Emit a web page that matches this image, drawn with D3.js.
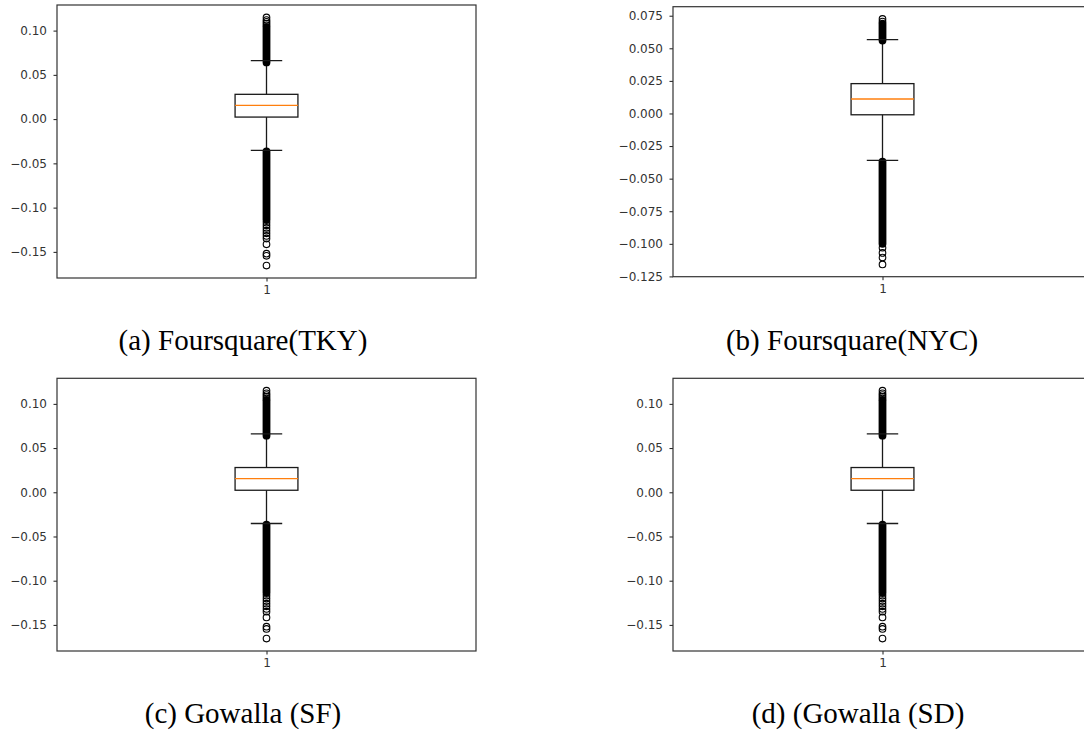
<!DOCTYPE html>
<html>
<head>
<meta charset="utf-8">
<style>
  body { margin: 0; background: #fff; }
  svg { display: block; }
</style>
</head>
<body>
<div class="chart"></div>

<script src="https://d3js.org/d3.v7.min.js"></script>
<script>
  // 每張子圖的資料 (a)(b)(c)(d)
  const captions = ['(a) Foursquare(TKY)', '(b) Foursquare(NYC)', '(c) Gowalla (SF)', '(d) (Gowalla (SD)']
  const xTickLabels = ['1']

  const q1Values     = [0.0023, -0.0010, 0.0023, 0.0023]
  const medianValues = [0.0155, 0.0111, 0.0155, 0.0155]
  const q3Values     = [0.0280, 0.0229, 0.0280, 0.0280]
  const whiskerLow   = [-0.0353, -0.0359, -0.0353, -0.0353]
  const whiskerHigh  = [0.0660, 0.0567, 0.0660, 0.0660]

  // 重疊到看起來是實心的 outlier 區段 [low, high]
  const denseFliers = [
    [[0.0640, 0.1040], [-0.1140, -0.0365]],
    [[0.0560, 0.0690], [-0.1000, -0.0370]],
    [[0.0640, 0.1040], [-0.1140, -0.0365]],
    [[0.0640, 0.1040], [-0.1140, -0.0365]]
  ]
  // 個別看得到的 outlier 圈圈
  const flierPoints = [
    [0.1060, 0.1080, 0.1100, 0.1120, 0.1149, -0.1170, -0.1200, -0.1230, -0.1260, -0.1290, -0.1320, -0.1350, -0.1415, -0.1520, -0.1545, -0.1655],
    [0.0705, 0.0725, -0.1030, -0.1070, -0.1105, -0.1158],
    [0.1060, 0.1080, 0.1100, 0.1120, 0.1149, -0.1170, -0.1200, -0.1230, -0.1260, -0.1290, -0.1320, -0.1350, -0.1415, -0.1520, -0.1545, -0.1655],
    [0.1060, 0.1080, 0.1100, 0.1120, 0.1149, -0.1170, -0.1200, -0.1230, -0.1260, -0.1290, -0.1320, -0.1350, -0.1415, -0.1520, -0.1545, -0.1655]
  ]

  const yTicks = [
    [-0.15, -0.10, -0.05, 0.00, 0.05, 0.10],
    [-0.125, -0.100, -0.075, -0.050, -0.025, 0.000, 0.025, 0.050, 0.075],
    [-0.15, -0.10, -0.05, 0.00, 0.05, 0.10],
    [-0.15, -0.10, -0.05, 0.00, 0.05, 0.10]
  ]
  const yTickFormats = ['.2f', '.3f', '.2f', '.2f']

  // 版面位置
  const frames = [
    { left: 57,  top: 5,     width: 419, height: 273,   capX: 243, capY: 350 },
    { left: 673, top: 6.7,   width: 419, height: 270,   capX: 852, capY: 350 },
    { left: 57,  top: 378.3, width: 419, height: 272.7, capX: 243, capY: 723 },
    { left: 673, top: 378.3, width: 419, height: 272.7, capX: 858, capY: 723 }
  ]

  const width = 1084, height = 732
  const r = 3.3
  const ink = '#1a1a1a'

  const svg = d3.select('.chart')
                .append('svg')
                .attr('width', width)
                .attr('height', height)

  frames.forEach((f, i) => {
    const g = svg.append('g')

    // y 軸範圍: 資料極值上下各留 5%
    const all = flierPoints[i].concat(denseFliers[i].flat())
    const [lo, hi] = d3.extent(all)
    const pad = (hi - lo) * 0.05

    const yScale = d3.scaleLinear()
                     .domain([lo - pad, hi + pad])
                     .range([f.top + f.height, f.top])
    const xScale = d3.scaleLinear()
                     .domain([0.5, 1.5])
                     .range([f.left, f.left + f.width])

    // 軸
    const yAxis = d3.axisLeft(yScale)
                    .tickValues(yTicks[i])
                    .tickFormat(d3.format(yTickFormats[i]))
                    .tickSizeOuter(0)
                    .tickSize(3.5)
                    .tickPadding(6.5)
    const xAxis = d3.axisBottom(xScale)
                    .tickValues([1])
                    .tickFormat((d, k) => xTickLabels[k])
                    .tickSizeOuter(0)
                    .tickSize(3.5)
                    .tickPadding(4)

    const yG = g.append('g')
                .attr('transform', `translate(${f.left},0)`)
                .call(yAxis)
    const xG = g.append('g')
                .attr('transform', `translate(0,${f.top + f.height})`)
                .call(xAxis)
    ;[yG, xG].forEach(a => {
      a.attr('font-size', null).attr('font-family', null)
      a.select('.domain').remove()
      a.selectAll('line').attr('stroke', ink).attr('stroke-width', 1)
      a.selectAll('text')
       .attr('fill', '#333')
       .style('font-family', '"DejaVu Sans", sans-serif')
       .style('font-size', '12px')
    })

    // 外框
    g.append('rect')
     .attr('x', f.left)
     .attr('y', f.top)
     .attr('width', f.width)
     .attr('height', f.height)
     .attr('fill', 'none')
     .attr('stroke', '#333')
     .attr('stroke-width', 1.2)

    const cx = xScale(1)
    const boxHalf = xScale(1.075) - cx
    const capHalf = xScale(1.0375) - cx

    // whiskers
    g.append('line')
     .attr('x1', cx).attr('x2', cx)
     .attr('y1', yScale(q3Values[i])).attr('y2', yScale(whiskerHigh[i]))
     .attr('stroke', ink).attr('stroke-width', 1.3)
    g.append('line')
     .attr('x1', cx).attr('x2', cx)
     .attr('y1', yScale(q1Values[i])).attr('y2', yScale(whiskerLow[i]))
     .attr('stroke', ink).attr('stroke-width', 1.3)

    // outliers 實心區段
    g.selectAll('.band')
     .data(denseFliers[i])
     .join('rect')
     .attr('x', cx - r - 0.6)
     .attr('width', 2 * (r + 0.6))
     .attr('y', d => yScale(d[1]) - r - 0.6)
     .attr('height', d => yScale(d[0]) - yScale(d[1]) + 2 * (r + 0.6))
     .attr('rx', r + 0.6)
     .attr('fill', '#000')

    // outliers 圈圈
    g.selectAll('.flier')
     .data(flierPoints[i])
     .join('circle')
     .attr('cx', cx)
     .attr('cy', d => yScale(d))
     .attr('r', r)
     .attr('fill', 'none')
     .attr('stroke', '#000')
     .attr('stroke-width', 1.1)

    // caps
    ;[whiskerLow[i], whiskerHigh[i]].forEach(v => {
      g.append('line')
       .attr('x1', cx - capHalf).attr('x2', cx + capHalf)
       .attr('y1', yScale(v)).attr('y2', yScale(v))
       .attr('stroke', ink).attr('stroke-width', 1.3)
    })

    // box
    g.append('rect')
     .attr('x', cx - boxHalf)
     .attr('width', 2 * boxHalf)
     .attr('y', yScale(q3Values[i]))
     .attr('height', yScale(q1Values[i]) - yScale(q3Values[i]))
     .attr('fill', 'none')
     .attr('stroke', ink)
     .attr('stroke-width', 1.3)

    // median
    g.append('line')
     .attr('x1', cx - boxHalf).attr('x2', cx + boxHalf)
     .attr('y1', yScale(medianValues[i])).attr('y2', yScale(medianValues[i]))
     .attr('stroke', '#ff7f0e')
     .attr('stroke-width', 1.3)

    // 子圖標題
    svg.append('text')
       .attr('x', f.capX)
       .attr('y', f.capY)
       .attr('text-anchor', 'middle')
       .style('font-family', '"Liberation Serif", "Times New Roman", serif')
       .style('font-size', '29px')
       .attr('fill', '#000')
       .text(captions[i])
  })
</script>
</body>
</html>
